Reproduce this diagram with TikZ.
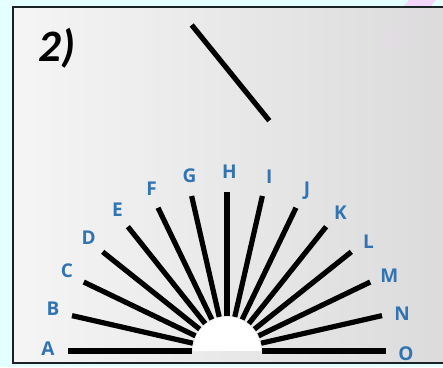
\documentclass[tikz,border=0pt]{standalone}
\usepackage{fontspec}
\setmainfont{Open Sans}
\newfontfamily\numfont{Carlito}
\usetikzlibrary{calc}
\definecolor{bgcyan}{RGB}{228,255,255}
\definecolor{lblue}{RGB}{50,116,178}
\definecolor{stripe}{RGB}{244,214,250}
\definecolor{framec}{RGB}{25,35,35}
\tikzset{
  ray/.style={line width=5.2pt, line cap=butt, black},
  lab/.style={font=\fontsize{19}{19}\selectfont\bfseries, text=lblue, inner sep=0pt},
  title/.style={font=\numfont\fontsize{45}{45}\selectfont\bfseries\itshape, text=black, inner sep=0pt},
}
\begin{document}
\begin{tikzpicture}[x=1pt,y=1pt]
\useasboundingbox (0,0) rectangle (443,367);
% outer background
\fill[bgcyan] (0,0) rectangle (443,367);
\fill[stripe] (409,367) -- (436,367) -- (430,360) -- (403,360) -- cycle;
% inner panel
\shade[left color=gray!8, middle color=white, right color=gray!28] (13,4) rectangle (445,360);
\fill[stripe, opacity=0.12] (403,360) -- (430,360) -- (405,320) -- (378,320) -- cycle;
\draw[framec, line width=1.4pt] (445,360) -- (13,360) -- (13,4) -- (445,4);
% title
\node[title] (t) at (57,319) {2)};
% lone line
\coordinate (p1) at (191.7,342);
\coordinate (p2) at (269.3,246.3);
\draw[ray] (p1) -- (p2);
% fan
\coordinate (c) at (227,16);
\fill[white] ($(c)+(-34,0)$) arc[start angle=180, end angle=0, radius=34] -- cycle;
\foreach \l [count=\i from 0] in {A,B,C,D,E,F,G,H,I,J,K,L,M,N,O}{
  \pgfmathsetmacro{\ang}{180-\i*180/14}
  \coordinate (in\l) at ($(c)+(\ang:35)$);
  \coordinate (out\l) at ($(c)+(\ang:159)$);
  \draw[ray] (in\l) -- (out\l);
  \node[lab] (lab\l) at ($(c)+(\ang-0.8:179)$) {\l};
}
\end{tikzpicture}
\end{document}
